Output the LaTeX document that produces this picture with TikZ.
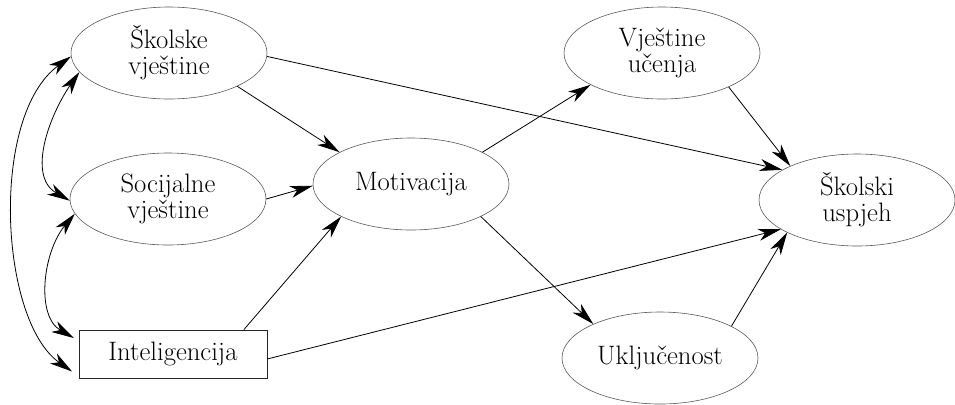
\documentclass[tikz,border=0pt]{standalone}
\usetikzlibrary{shapes.geometric,arrows.meta}
\begin{document}
\begin{tikzpicture}[x=0.75pt,y=-0.75pt,
  lbl/.style={font=\fontsize{20}{19.5}\selectfont, align=center},
  ell/.style={lbl, ellipse, draw=black!65, line width=0.45pt, minimum width=147pt, minimum height=69pt, inner sep=0pt},
  box/.style={lbl, rectangle, draw=black!85, line width=0.6pt, minimum width=141pt, minimum height=36pt, inner sep=0pt},
  tip/.tip={Stealth[length=17pt,width=9pt,inset=5pt]},
  arr/.style={-tip, line width=0.6pt},
  darr/.style={tip-tip, line width=0.6pt}]
\useasboundingbox (0,0) rectangle (955,404);
\node[ell] (sk) at (169,53) {Školske\\vještine};
\node[ell] (so) at (168,199) {Socijalne\\vještine};
\node[box] (int) at (173,354) {Inteligencija};
\node[ell] (mot) at (411,184) {Motivacija};
\node[ell] (vu) at (662,53) {Vještine\\učenja};
\node[ell] (su) at (857,200) {Školski\\uspjeh};
\node[ell] (uk) at (660,358) {Uključenost};

\draw[arr] (sk.358) -- (su.158);
\draw[arr] (sk.334) -- (mot.156);
\draw[arr] (so.0) -- (mot.181);
\draw[arr] (int.19.7) -- (mot.205.6);
\draw[arr] (int.357.6) -- (su.201.4);
\draw[arr] (mot.24.9) -- (vu.204.6);
\draw[arr] (mot.335) -- (uk.153.8);
\draw[arr] (vu.333.8) -- (su.153.1);
\draw[arr] (uk.24.3) -- (su.205.6);

\draw[darr] (sk.192) to[out=235,in=150] (so.181);
\draw[darr,shorten >=4pt] (so.189) to[out=230,in=150] (int.172.7);
\draw[darr,shorten >=9pt] (sk.182) to[out=216,in=145,looseness=0.8] (int.195);
\end{tikzpicture}
\end{document}
